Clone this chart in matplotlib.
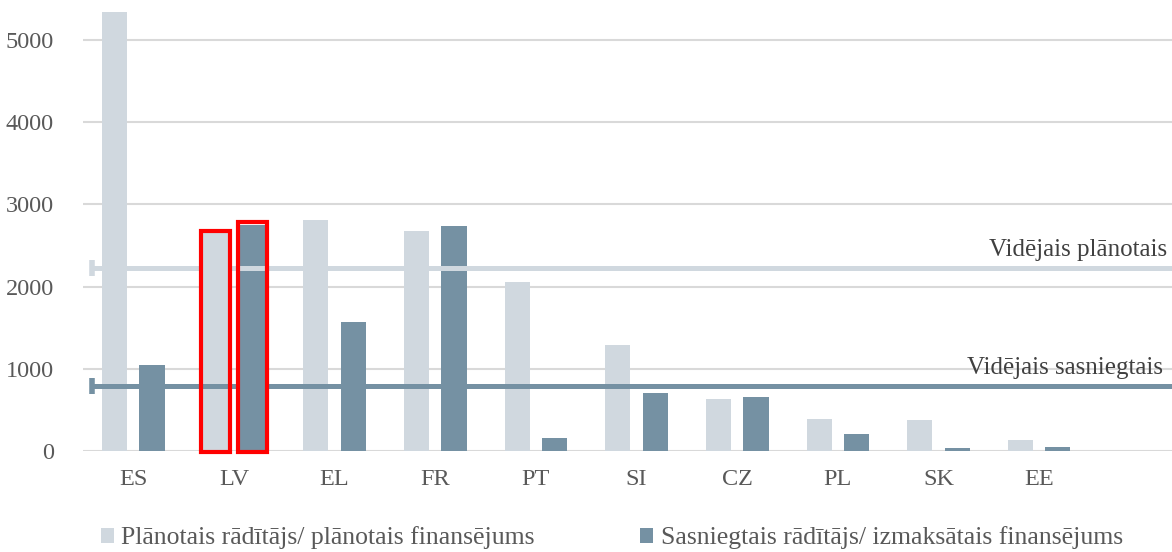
import matplotlib.pyplot as plt
from matplotlib.patches import Rectangle

countries = ["ES", "LV", "EL", "FR", "PT", "SI", "CZ", "PL", "SK", "EE"]
planned = [5340, 2650, 2810, 2676, 2056, 1290, 636, 393, 377, 130]
achieved = [1046, 2750, 1570, 2737, 158, 700, 657, 207, 40, 52]
avg_planned = 2230
avg_achieved = 795
highlight = "LV"

c_plan = "#d0d8df"
c_ach = "#7591a3"
c_grid = "#d9d9d9"
c_text = "#595959"

plt.rcParams['font.family'] = ['Liberation Serif', 'DejaVu Serif']

fig = plt.figure(figsize=(11.72, 5.52), dpi=100)
ax = fig.add_axes([83 / 1172, 101 / 552, 1 - 83 / 1172, 451 / 552])

x = list(range(len(countries)))
off = 0.186
w = 0.25
ax.bar([i - off for i in x], planned, w, color=c_plan, zorder=2,
       label="Plānotais rādītājs/ plānotais finansējums")
ax.bar([i + off for i in x], achieved, w, color=c_ach, zorder=2,
       label="Sasniegtais rādītājs/ izmaksātais finansējums")

# red frames around the highlighted country
k = countries.index(highlight)
for dx, val in ((-off, planned[k]), (off, achieved[k])):
    ax.add_patch(Rectangle((k + dx - w / 2 - 0.02, -10), w + 0.04, val + 40,
                           fill=False, edgecolor="#ff0000", linewidth=3, zorder=4,
                           clip_on=False))

# average lines
xr = 10.4
ax.plot([-0.41, xr], [avg_planned] * 2, color=c_plan, lw=3.6, zorder=3,
        solid_capstyle="butt", clip_on=False)
ax.plot([-0.41, xr], [avg_achieved] * 2, color=c_ach, lw=3.6, zorder=3,
        solid_capstyle="butt", clip_on=False)
ax.plot([-0.41], [avg_planned], marker="|", ms=12, mew=4, color=c_plan, zorder=3)
ax.plot([-0.41], [avg_achieved], marker="|", ms=12, mew=4, color=c_ach, zorder=3)
ax.text(10.27, avg_planned + 85, "Vidējais plānotais", ha="right", va="bottom",
        fontsize=18, color="#404040")
ax.text(10.23, avg_achieved + 75, "Vidējais sasniegtais", ha="right", va="bottom",
        fontsize=18, color="#404040")

ax.set_xlim(-0.5, 10.32)
ax.set_ylim(0, 5487)
ax.set_yticks([0, 1000, 2000, 3000, 4000, 5000])
ax.set_xticks(x)
ax.set_xticklabels(countries)
ax.yaxis.grid(True, color=c_grid, lw=1.5, zorder=0)
ax.set_axisbelow(True)
for s in ax.spines.values():
    s.set_visible(False)
ax.tick_params(length=0, labelsize=17.5, colors=c_text)
ax.tick_params(axis="y", pad=21)
ax.tick_params(axis="x", pad=13)

fig.legend(loc="center", bbox_to_anchor=(0.522, 1 - 538 / 552), ncol=2, frameon=False,
           fontsize=18.5, handlelength=0.5, handleheight=0.5, handletextpad=0.3,
           columnspacing=4.1, labelcolor=c_text)

fig.savefig("out.png", dpi=100)
